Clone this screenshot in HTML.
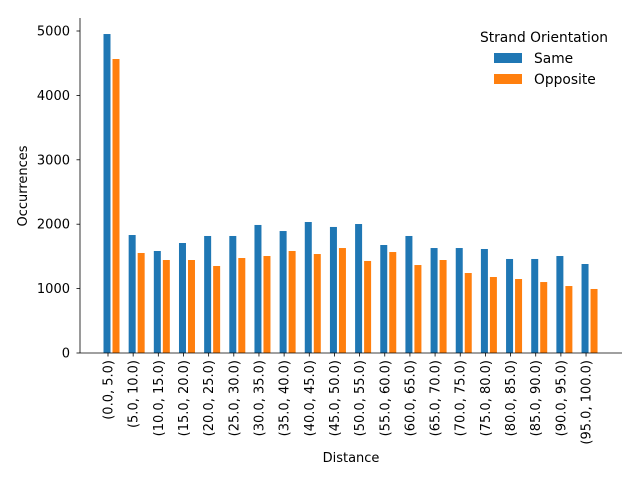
<!DOCTYPE html>
<html><head><meta charset="utf-8"><style>
body{margin:0;background:#fff;font-family:"DejaVu Sans","Liberation Sans",sans-serif;}
svg text{font-family:"DejaVu Sans","Liberation Sans",sans-serif;font-size:13px;fill:#000}
svg .lg text{font-size:13.8px}
</style></head><body>
<svg id="chart" width="640" height="480" xmlns="http://www.w3.org/2000/svg"></svg>
<script>
const categories=["(0.0, 5.0)","(5.0, 10.0)","(10.0, 15.0)","(15.0, 20.0)","(20.0, 25.0)","(25.0, 30.0)","(30.0, 35.0)","(35.0, 40.0)","(40.0, 45.0)","(45.0, 50.0)","(50.0, 55.0)","(55.0, 60.0)","(60.0, 65.0)","(65.0, 70.0)","(70.0, 75.0)","(75.0, 80.0)","(80.0, 85.0)","(85.0, 90.0)","(90.0, 95.0)","(95.0, 100.0)"];
const sameValues=[4953,1832,1584,1708,1817,1817,1988,1894,2034,1957,2003,1677,1817,1630,1630,1615,1460,1460,1506,1382];
const oppositeValues=[4565,1553,1444,1444,1351,1475,1506,1584,1537,1630,1429,1568,1366,1444,1242,1180,1149,1102,1040,994];
const yTicks=[0,1000,2000,3000,4000,5000];
const svg=document.getElementById('chart');
const NS='http://www.w3.org/2000/svg';
const L=80,R=622,T=18,B=353;
const y=v=>B-v*0.0644;
const xc=i=>112+i*25.16;
function mk(tag,attrs,parent){const e=document.createElementNS(NS,tag);for(const k in attrs)e.setAttribute(k,attrs[k]);(parent||svg).appendChild(e);return e;}
categories.forEach((c,i)=>{
  const b=mk('rect',{x:xc(i)-8.5,y:y(sameValues[i]),width:7,height:B-y(sameValues[i]),fill:'#1f77b4'});
  
  
  const o=mk('rect',{x:xc(i)+0.5,y:y(oppositeValues[i]),width:7,height:B-y(oppositeValues[i]),fill:'#ff7f0e'});
  
  
  const tx=xc(i)-4;
  mk('line',{x1:tx,x2:tx,y1:B,y2:B+3.5,stroke:'#000','stroke-width':0.8});
  const t=mk('text',{x:0,y:0,'text-anchor':'end',transform:`translate(${tx+4.5},${B+7}) rotate(-90)`});
  t.textContent=c;
  
  
});
yTicks.forEach(v=>{
  mk('line',{x1:L-3.5,x2:L,y1:y(v),y2:y(v),stroke:'#000','stroke-width':0.8});
  const t=mk('text',{x:L-10,y:y(v)+4.5,'text-anchor':'end'});
  t.textContent=v;
  
  
});
mk('line',{x1:L,x2:L,y1:T,y2:B,stroke:'#000','stroke-width':0.8});
mk('line',{x1:L,x2:R,y1:B,y2:B,stroke:'#000','stroke-width':0.8});
const xl=mk('text',{x:351,y:462,'text-anchor':'middle'});xl.textContent='Distance';


const yl=mk('text',{x:0,y:0,'text-anchor':'middle',transform:'translate(27,186) rotate(-90)'});yl.textContent='Occurrences';


const lg=mk('g',{class:'lg'});


const lt=mk('text',{x:544,y:42,'text-anchor':'middle'},lg);lt.textContent='Strand Orientation';
mk('rect',{x:494,y:53,width:28,height:10,fill:'#1f77b4'},lg);
const l1=mk('text',{x:534,y:63},lg);l1.textContent='Same';
mk('rect',{x:494,y:74,width:28,height:10,fill:'#ff7f0e'},lg);
const l2=mk('text',{x:534,y:84},lg);l2.textContent='Opposite';
</script>
</body></html>
